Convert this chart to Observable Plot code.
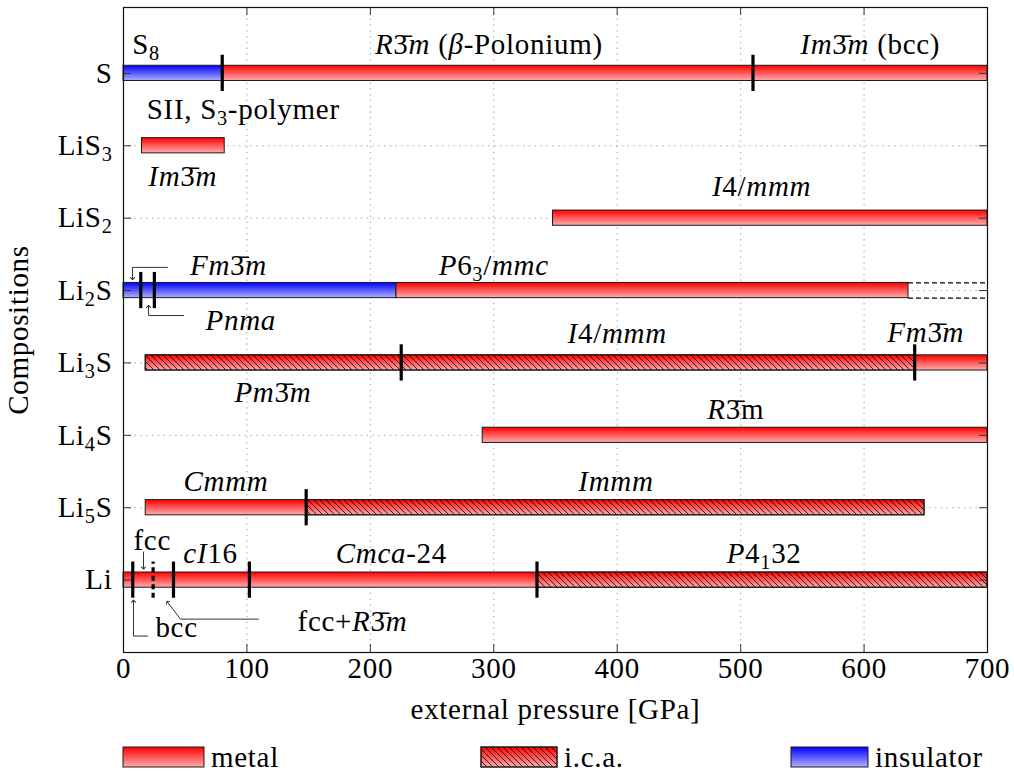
<!DOCTYPE html>
<html>
<head>
<meta charset="utf-8">
<script src="https://cdn.jsdelivr.net/npm/d3@7"></script>
<script src="https://cdn.jsdelivr.net/npm/@observablehq/plot@0.6"></script>
<style>
  html, body { margin: 0; padding: 0; background: white; }
  #chart svg { display: block; letter-spacing: 0.7px; }
</style>
</head>
<body>
<div id="chart"></div>
<script>
// Compositions, bottom (index 0) to top. "_x" marks a subscript, "*…*" italic.
const rows = ["Li", "Li_5S", "Li_4S", "Li_3S", "Li_2S", "LiS_2", "LiS_3", "S"];
const xTicks = [0, 100, 200, 300, 400, 500, 600, 700];

// Stability ranges of each phase (GPa) and their electronic character
const segRow  = ["S", "S", "LiS_3", "LiS_2", "Li_2S", "Li_2S", "Li_3S", "Li_3S", "Li_4S", "Li_5S", "Li_5S", "Li", "Li"];
const segFrom = [0, 80, 15, 348, 0, 221, 18, 641, 291, 18, 148, 0, 335];
const segTo   = [80, 700, 82, 700, 221, 636, 641, 700, 700, 148, 649, 335, 700];
const segKind = ["insulator", "metal", "metal", "metal", "insulator", "metal", "ica", "metal", "metal", "metal", "ica", "metal", "ica"];

// Phase transitions (GPa); the dashed one is uncertain
const transRow    = ["S", "S", "Li_2S", "Li_2S", "Li_3S", "Li_3S", "Li_5S", "Li", "Li", "Li", "Li", "Li"];
const transP      = [80, 510, 14, 25, 225, 641, 148, 7.5, 24, 40.5, 102, 335];
const transDashed = [false, false, false, false, false, false, false, false, true, false, false, false];

// Range beyond the computed data
const openRow  = ["Li_2S"];
const openFrom = [636];
const openTo   = [700];

// Phase names: pressure, row, offset from the row, anchor
const labelText = [
  "S_8", "*R*3\u0304*m* (*β*-Polonium)", "*Im*3\u0304*m* (bcc)", "SII, S_3-polymer",
  "*Im*3\u0304*m*", "*I*4/*mmm*",
  "*Fm*3\u0304*m*", "*P*6_3/*mmc*", "*Pnma*",
  "*I*4/*mmm*", "*Fm*3\u0304*m*", "*Pm*3\u0304*m*",
  "*R*3\u0304m",
  "*Cmmm*", "*Immm*",
  "fcc", "*cI*16", "*Cmca*-24", "*P*4_132", "bcc", "fcc+*R*3\u0304*m*"
];
const labelP = [7, 296, 605, 97, 48, 517, 85, 300, 95, 400, 650, 121, 496, 83, 399, 23.3, 70.5, 217, 519, 43, 185.5];
const labelRow = ["S", "S", "S", "S", "LiS_3", "LiS_2", "Li_2S", "Li_2S", "Li_2S", "Li_3S", "Li_3S", "Li_3S", "Li_4S",
                  "Li_5S", "Li_5S", "Li", "Li", "Li", "Li", "Li", "Li"];
const labelOff = [0.39, 0.39, 0.39, -0.5, -0.43, 0.43, 0.34, 0.34, -0.41, 0.4, 0.42, -0.41, 0.36,
                  0.36, 0.36, 0.55, 0.37, 0.37, 0.37, -0.66, -0.57];
const labelAnchor = ["start", "middle", "middle", "middle", "middle", "middle", "middle", "middle", "middle", "middle",
                     "middle", "middle", "middle", "middle", "middle", "middle", "middle", "middle", "middle", "middle", "middle"];

// Pointer arrows from small labels to their transitions
const arrowId  = [0, 0, 0, 1, 1, 1, 2, 2, 3, 3, 3, 4, 4, 4];
const arrowRow = ["Li_2S", "Li_2S", "Li_2S", "Li_2S", "Li_2S", "Li_2S", "Li", "Li", "Li", "Li", "Li", "Li", "Li", "Li"];
const arrowP   = [35.6, 7.3, 7.3, 48.6, 20.3, 20.3, 16.2, 16.2, 19.4, 8.1, 8.1, 109.4, 46.2, 35.6];
const arrowOff = [0.32, 0.32, 0.166, -0.345, -0.345, -0.22, 0.387, 0.166, -0.773, -0.773, -0.29, -0.539, -0.539, -0.304];

const legendLabels = ["metal", "i.c.a.", "insulator"];

// ---------------------------------------------------------------------------
const row = name => rows.indexOf(name);
const rowIdx = rows.map((_, i) => i);
const yMin = -1, yMax = 7.91;
const barHalf = 0.105, transHalf = 0.25;
const W = 1014, H = 730;
const mL = 123, mR = 27, mT = 7, mB = 78;
const tickLenX = 8 * 700 / (W - mL - mR);
const tickLenY = 8 * (yMax - yMin) / (H - mT - mB);
const FONT = "'Liberation Serif', 'Times New Roman', serif";
const FONT_SIZE = 29;

const segIdx = segRow.map((_, i) => i);
const metalIdx = segIdx.filter(i => segKind[i] !== "insulator");
const insIdx = segIdx.filter(i => segKind[i] === "insulator");
const icaIdx = segIdx.filter(i => segKind[i] === "ica");
const transIdx = transRow.map((_, i) => i);
const labIdx = labelText.map((_, i) => i);
const arrIdx = arrowId.map((_, i) => i);

const barOpts = (fill) => ({
  x1: i => segFrom[i], x2: i => segTo[i],
  y1: i => row(segRow[i]) - barHalf, y2: i => row(segRow[i]) + barHalf,
  fill, stroke: "#1a1a1a", strokeWidth: 1
});

const svg = Plot.plot({
  width: W, height: H,
  marginLeft: mL, marginRight: mR, marginTop: mT, marginBottom: mB,
  style: { fontFamily: FONT, fontSize: FONT_SIZE + "px", color: "black", background: "white" },
  x: { domain: [0, 700], ticks: xTicks, tickSize: 0, tickPadding: 5, label: null, tickFormat: d => String(d) },
  y: { domain: [yMin, yMax], ticks: rowIdx, tickFormat: i => rows[i], tickSize: 0, tickPadding: 11, label: null },
  marks: [
    // dotted grid
    Plot.ruleX(xTicks, { stroke: "#9a9a9a", strokeDasharray: "1.3,4.5" }),
    Plot.ruleY(rowIdx, { stroke: "#9a9a9a", strokeDasharray: "1.3,4.5" }),
    // bars
    Plot.rect(metalIdx, barOpts("url(#metal)")),
    Plot.rect(insIdx, barOpts("url(#insulator)")),
    Plot.rect(icaIdx, barOpts("url(#hatch)")),
    // open-ended range
    Plot.ruleY(openRow.map((_, i) => i), { y: i => row(openRow[i]) + barHalf, x1: i => openFrom[i], x2: i => openTo[i], stroke: "black", strokeWidth: 1.2, strokeDasharray: "5,3" }),
    Plot.ruleY(openRow.map((_, i) => i), { y: i => row(openRow[i]) - barHalf, x1: i => openFrom[i], x2: i => openTo[i], stroke: "black", strokeWidth: 1.2, strokeDasharray: "5,3" }),
    // transitions
    Plot.ruleX(transIdx.filter(i => !transDashed[i]), {
      x: i => transP[i], y1: i => row(transRow[i]) - transHalf, y2: i => row(transRow[i]) + transHalf,
      stroke: "black", strokeWidth: 3.2
    }),
    Plot.ruleX(transIdx.filter(i => transDashed[i]), {
      x: i => transP[i], y1: i => row(transRow[i]) - transHalf, y2: i => row(transRow[i]) + transHalf,
      stroke: "black", strokeWidth: 3.2, strokeDasharray: "5,3.5"
    }),
    // pointer arrows
    Plot.line(arrIdx, {
      x: i => arrowP[i], y: i => row(arrowRow[i]) + arrowOff[i], z: i => arrowId[i],
      stroke: "#333", strokeWidth: 1, markerEnd: "arrow"
    }),
    // phase names
    Plot.text(labIdx.filter(i => labelAnchor[i] === "start"), {
      x: i => labelP[i], y: i => row(labelRow[i]) + labelOff[i], text: i => labelText[i], textAnchor: "start"
    }),
    Plot.text(labIdx.filter(i => labelAnchor[i] === "middle"), {
      x: i => labelP[i], y: i => row(labelRow[i]) + labelOff[i], text: i => labelText[i], textAnchor: "middle"
    }),
    // inward ticks on the frame
    Plot.ruleX(xTicks, { y1: yMin, y2: yMin + tickLenY, stroke: "#333" }),
    Plot.ruleX(xTicks, { y1: yMax, y2: yMax - tickLenY, stroke: "#333" }),
    Plot.ruleY(rowIdx, { x1: 0, x2: tickLenX, stroke: "#333" }),
    Plot.ruleY(rowIdx, { x1: 700, x2: 700 - tickLenX, stroke: "#333" }),
    // axis titles
    Plot.text(["external pressure [GPa]"], { frameAnchor: "bottom", dy: 57, textAnchor: "middle", lineAnchor: "middle" }),
    Plot.text(["Compositions"], { frameAnchor: "left", dx: -105, rotate: -90, textAnchor: "middle", lineAnchor: "middle" }),
    Plot.frame({ stroke: "#111", strokeWidth: 1.2 })
  ]
});

// Gradients and hatching used by the bars and the legend
function addDefs(root) {
  const defs = d3.select(root).insert("defs", ":first-child");
  const grad = (id, top, bottom) => {
    const g = defs.append("linearGradient").attr("id", id)
      .attr("x1", 0).attr("y1", 0).attr("x2", 0).attr("y2", 1);
    g.append("stop").attr("offset", "0%").attr("stop-color", top);
    g.append("stop").attr("offset", "100%").attr("stop-color", bottom);
  };
  grad("metal", "#ff0000", "#ffadad");
  grad("insulator", "#0000ff", "#b0b0ff");
  const p = defs.append("pattern").attr("id", "hatch")
    .attr("patternUnits", "userSpaceOnUse").attr("width", 6).attr("height", 6);
  p.append("path").attr("d", "M0,0L6,6M-1,5L1,7M5,-1L7,1")
    .attr("stroke", "#000").attr("stroke-width", 0.8);
}

// Turn "*italic*" and "_x" subscript markup into tspans
const SUB = 6;
function applyMarkup(root) {
  root.querySelectorAll("text").forEach(el => {
    if (el.children.length) return;
    const s = el.textContent;
    if (!/[*_]/.test(s)) return;
    const runs = [];
    let italic = false;
    let cur = { t: "", italic, sub: false };
    const push = () => { if (cur.t) runs.push(cur); };
    for (let i = 0; i < s.length; ) {
      const c = s[i];
      if (c === "*") { push(); italic = !italic; cur = { t: "", italic, sub: false }; i++; }
      else if (c === "_") { push(); runs.push({ t: s[i + 1], italic, sub: true }); cur = { t: "", italic, sub: false }; i += 2; }
      else { cur.t += c; i++; }
    }
    push();
    el.textContent = "";
    let shifted = false;
    for (const r of runs) {
      const ts = document.createElementNS("http://www.w3.org/2000/svg", "tspan");
      if (r.italic) ts.setAttribute("font-style", "italic");
      if (r.sub) {
        ts.setAttribute("font-size", "0.7em");
        if (!shifted) ts.setAttribute("dy", SUB);
        shifted = true;
      } else if (shifted) {
        ts.setAttribute("dy", -SUB);
        shifted = false;
      }
      ts.textContent = r.t;
      el.appendChild(ts);
    }
  });
}

addDefs(svg);
applyMarkup(svg);
document.getElementById("chart").appendChild(svg);

// Legend below the chart
const legendX = [123, 481, 791];
const legendW = [81, 76, 77];
const legendFill = ["url(#metal)", "url(#metal)", "url(#insulator)"];
const legendHatch = [false, true, false];
const legend = d3.create("svg")
  .attr("width", W).attr("height", 48)
  .attr("font-family", FONT).attr("font-size", FONT_SIZE);
legendLabels.forEach((lab, i) => {
  legend.append("rect").attr("x", legendX[i]).attr("y", 17).attr("width", legendW[i]).attr("height", 20)
    .attr("fill", legendFill[i]).attr("stroke", "#1a1a1a").attr("stroke-width", 1);
  if (legendHatch[i]) {
    legend.append("rect").attr("x", legendX[i]).attr("y", 17).attr("width", legendW[i]).attr("height", 20)
      .attr("fill", "url(#hatch)").attr("stroke", "#1a1a1a").attr("stroke-width", 1);
  }
  legend.append("text").attr("x", legendX[i] + legendW[i] + 7).attr("y", 37).text(lab);
});
document.getElementById("chart").appendChild(legend.node());
</script>
</body>
</html>
